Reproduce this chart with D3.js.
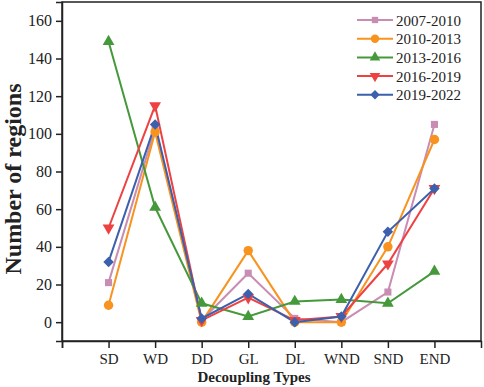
<!DOCTYPE html>
<html>
<head>
<meta charset="utf-8">
<script src="https://cdn.jsdelivr.net/npm/d3@7"></script>
<style>
  body { margin: 0; background: #fff; }
  svg { font-family: "Liberation Serif", "Times New Roman", serif; }
</style>
</head>
<body>
<div id="container"></div>
<script>
/* DATA */
const types = ["SD", "WD", "DD", "GL", "DL", "WND", "SND", "END"];
const periods = ["2007-2010", "2010-2013", "2013-2016", "2016-2019", "2019-2022"];
const v0710 = [21, 103, 1, 26, 2, 0, 16, 105];
const v1013 = [9, 101, 0, 38, 0, 0, 40, 97];
const v1316 = [149, 61, 10, 3, 11, 12, 10, 27];
const v1619 = [50, 115, 1, 13, 1, 3, 31, 71];
const v1922 = [32, 105, 2, 15, 0, 3, 48, 71];
const yTicks = [0, 20, 40, 60, 80, 100, 120, 140, 160];

const seriesValues = [v0710, v1013, v1316, v1619, v1922];
const colors = ["#c98db3", "#f7931e", "#46993b", "#ee4242", "#3d60ad"];
// square, circle, triangle, triangle-down, diamond (rotated square)
const symbols = [d3.symbolSquare, d3.symbolCircle, d3.symbolTriangle, d3.symbolTriangle, d3.symbolSquare];
const symSize = [50, 70, 60, 60, 55];
const symRot = [0, 0, 0, 180, 45];

/* CONSTANTS */
const width = 484, height = 387;
const margin = {top: 2, right: 3, bottom: 46, left: 62};

const svg = d3.select("#container").append("svg")
  .attr("width", width).attr("height", height);

/* SCALES */
const xScale = d3.scaleLinear()
  .domain([-1, 8])
  .range([margin.left, width - margin.right]);

const yScale = d3.scaleLinear()
  .domain([-10, 170])
  .range([height - margin.bottom, margin.top]);

// frame
svg.append("rect")
  .attr("x", margin.left).attr("y", margin.top)
  .attr("width", width - margin.right - margin.left)
  .attr("height", height - margin.bottom - margin.top)
  .attr("fill", "none").attr("stroke", "#222").attr("stroke-width", 1.5);

/* AXES */
const xAxis = d3.axisBottom(xScale)
  .tickValues(d3.range(-1, 8))
  .tickFormat(i => i >= 0 ? types[i] : "")
  .tickSizeOuter(0).tickSize(7).tickPadding(5);

const yAxis = d3.axisLeft(yScale)
  .tickValues(yTicks)
  .tickSizeOuter(0).tickSize(6).tickPadding(4);

const gx = svg.append("g")
  .attr("transform", `translate(0, ${height - margin.bottom})`)
  .call(xAxis);
const gy = svg.append("g")
  .attr("transform", `translate(${margin.left}, 0)`)
  .call(yAxis);

[gx, gy].forEach(g => {
  g.select(".domain").attr("stroke", "#222").attr("stroke-width", 1.5);
  g.selectAll(".tick line").attr("stroke", "#222").attr("stroke-width", 1.5);
  g.selectAll(".tick text").attr("fill", "#222")
    .style("font-family", "Liberation Serif").style("font-size", "15px");
});
gy.selectAll(".tick text").style("font-size", "16px");

svg.append("text")
  .attr("x", 254).attr("y", 382)
  .attr("text-anchor", "middle")
  .style("font-size", "15px").style("font-weight", "bold")
  .attr("fill", "#222")
  .text("Decoupling Types");

svg.append("text")
  .attr("transform", "translate(21, 179) rotate(-90)")
  .attr("text-anchor", "middle")
  .style("font-size", "24px").style("font-weight", "bold")
  .attr("fill", "#222")
  .text("Number of regions");

/* LINES */
const line = d3.line()
  .x((d, i) => xScale(i))
  .y(d => yScale(d));

seriesValues.forEach((vals, s) => {
  svg.append("path")
    .datum(vals)
    .attr("d", line)
    .attr("fill", "none")
    .attr("stroke", colors[s])
    .attr("stroke-width", 2);
});

seriesValues.forEach((vals, s) => {
  svg.selectAll(".m" + s)
    .data(vals)
    .join("path")
    .attr("class", "m" + s)
    .attr("d", d3.symbol(symbols[s], symSize[s]))
    .attr("transform", (d, i) => `translate(${xScale(i)}, ${yScale(d)}) rotate(${symRot[s]})`)
    .attr("fill", colors[s]);
});

/* LEGEND */
const legend = svg.append("g").attr("transform", "translate(357, 20)");
periods.forEach((p, s) => {
  const g = legend.append("g").attr("transform", `translate(0, ${s * 18.7})`);
  g.append("line").attr("x1", 0).attr("x2", 36).attr("y1", 0).attr("y2", 0)
    .attr("stroke", colors[s]).attr("stroke-width", 2);
  g.append("path")
    .attr("d", d3.symbol(symbols[s], symSize[s] * 0.8))
    .attr("transform", `translate(18, 0) rotate(${symRot[s]})`)
    .attr("fill", colors[s]);
  g.append("text").attr("x", 39).attr("y", 5.5)
    .style("font-size", "15px").attr("fill", "#222")
    .text(p);
});
</script>
</body>
</html>
